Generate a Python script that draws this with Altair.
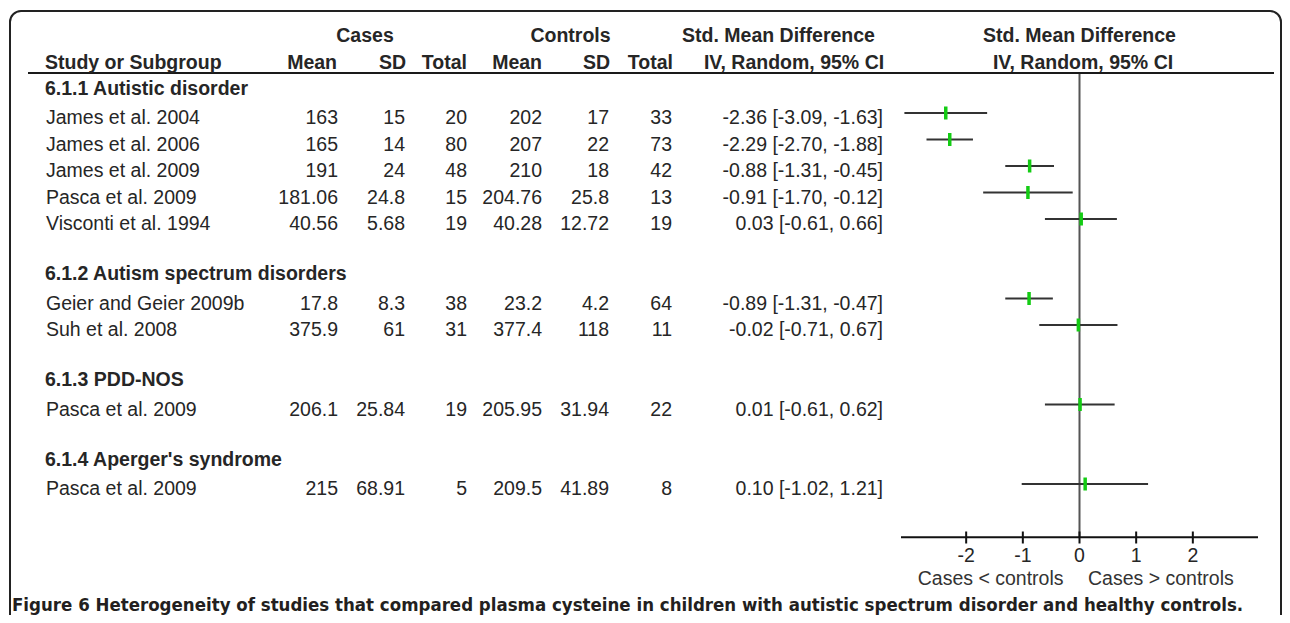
import altair as alt
import pandas as pd

# ---------------- data ----------------
studies = ["James et al. 2004", "James et al. 2006", "James et al. 2009", "Pasca et al. 2009",
           "Visconti et al. 1994", "Geier and Geier 2009b", "Suh et al. 2008",
           "Pasca et al. 2009", "Pasca et al. 2009"]
study_rows = [1, 2, 3, 4, 5, 8, 9, 12, 15]
case_mean = ["163", "165", "191", "181.06", "40.56", "17.8", "375.9", "206.1", "215"]
case_sd = ["15", "14", "24", "24.8", "5.68", "8.3", "61", "25.84", "68.91"]
case_n = ["20", "80", "48", "15", "19", "38", "31", "19", "5"]
ctrl_mean = ["202", "207", "210", "204.76", "40.28", "23.2", "377.4", "205.95", "209.5"]
ctrl_sd = ["17", "22", "18", "25.8", "12.72", "4.2", "118", "31.94", "41.89"]
ctrl_n = ["33", "73", "42", "13", "19", "64", "11", "22", "8"]
smd = [-2.36, -2.29, -0.88, -0.91, 0.03, -0.89, -0.02, 0.01, 0.10]
ci_lo = [-3.09, -2.70, -1.31, -1.70, -0.61, -1.31, -0.71, -0.61, -1.02]
ci_hi = [-1.63, -1.88, -0.45, -0.12, 0.66, -0.47, 0.67, 0.62, 1.21]

subgroups = ["6.1.1 Autistic disorder", "6.1.2 Autism spectrum disorders",
             "6.1.3 PDD-NOS", "6.1.4 Aperger's syndrome"]
subgroup_rows = [0, 7, 11, 14]

tick_values = [-2, -1, 0, 1, 2]
tick_labels = ["-2", "-1", "0", "1", "2"]
axis_extent = [-3.15, 3.15]

caption = ("Figure 6 Heterogeneity of studies that compared plasma cysteine in children "
           "with autistic spectrum disorder and healthy controls.")

# ---------------- styles ----------------
FONT = "Liberation Sans"
FS = 19.5
TXT = "#262626"
CAP_FONT = "Noto Sans Condensed, DejaVu Sans Condensed, Roboto Condensed, Roboto"

df = pd.DataFrame({
    "study": studies, "row": study_rows,
    "cm": case_mean, "csd": case_sd, "cn": case_n,
    "km": ctrl_mean, "ksd": ctrl_sd, "kn": ctrl_n,
    "smd": smd, "lo": ci_lo, "hi": ci_hi,
})
df["ci"] = [f"{s:.2f} [{l:.2f}, {h:.2f}]" for s, l, h in zip(smd, ci_lo, ci_hi)]
sg = pd.DataFrame({"label": subgroups, "row": subgroup_rows})

xscale = alt.Scale(domain=axis_extent, range=[893, 1250], nice=False, zero=False)
yscale = alt.Scale(domain=[0, 15], range=[78.5, 476], nice=False, zero=False)
Y = alt.Y("row:Q", scale=yscale, axis=None)


def col(field, x, align="right"):
    return alt.Chart(df).mark_text(align=align, baseline="alphabetic", dy=11, font=FONT,
                                   fontSize=FS, color=TXT).encode(
        x=alt.value(x), y=Y, text=f"{field}:N")


def label(text, x, y, align="center", bold=True, font=FONT, size=FS, color=TXT):
    return alt.Chart(pd.DataFrame({"t": [text]})).mark_text(
        align=align, baseline="alphabetic", font=font, fontSize=size, color=color,
        fontWeight="bold" if bold else "normal").encode(
        x=alt.value(x), y=alt.value(y), text="t:N")


box = alt.Chart(pd.DataFrame({"a": [0]})).mark_rect(
    fillOpacity=0, stroke="#222222", strokeWidth=2, cornerRadius=11).encode(
    x=alt.value(2), x2=alt.value(1273), y=alt.value(3), y2=alt.value(660))

header_line = alt.Chart(pd.DataFrame({"a": [0]})).mark_rule(
    color="#1a1a1a", strokeWidth=2).encode(x=alt.value(20), x2=alt.value(1266), y=alt.value(65))

headers = [
    label("Cases", 357, 34), label("Controls", 562.5, 34),
    label("Std. Mean Difference", 770.5, 34), label("Std. Mean Difference", 1071.5, 34),
    label("Study or Subgroup", 37, 61, align="left"),
    label("Mean", 329, 61, align="right"), label("SD", 398, 61, align="right"),
    label("Total", 459, 61, align="right"), label("Mean", 534, 61, align="right"),
    label("SD", 602, 61, align="right"), label("Total", 665, 61, align="right"),
    label("IV, Random, 95% CI", 786, 61), label("IV, Random, 95% CI", 1075, 61),
]

sub_text = alt.Chart(sg).mark_text(align="left", baseline="alphabetic", dy=8, font=FONT,
                                   fontSize=FS, fontWeight="bold", color=TXT).encode(
    x=alt.value(37), y=Y, text="label:N")

cols = [
    col("study", 38, "left"), col("cm", 330), col("csd", 397), col("cn", 459),
    col("km", 534), col("ksd", 601), col("kn", 664), col("ci", 875),
]

zero_line = alt.Chart(pd.DataFrame({"v": [0]})).mark_rule(color="#555555", strokeWidth=2).encode(
    x=alt.X("v:Q", scale=xscale, axis=None), y=alt.value(66), y2=alt.value(529))

ci_lines = alt.Chart(df).mark_rule(color="#333333", strokeWidth=2).encode(
    x=alt.X("lo:Q", scale=xscale, axis=None), x2="hi:Q", y=Y)

points = alt.Chart(df).mark_rule(color="#14cc14", strokeWidth=3.5, yOffset=-6.5, y2Offset=6.5).encode(
    x=alt.X("smd:Q", scale=xscale, axis=None), y=Y, y2="row:Q")

ax = pd.DataFrame({"a": [axis_extent[0]], "b": [axis_extent[1]]})
axis_line = alt.Chart(ax).mark_rule(color="#111111", strokeWidth=2).encode(
    x=alt.X("a:Q", scale=xscale, axis=None), x2="b:Q", y=alt.value(529.3))

tk = pd.DataFrame({"v": tick_values, "t": tick_labels})
ticks = alt.Chart(tk).mark_rule(color="#111111", strokeWidth=2).encode(
    x=alt.X("v:Q", scale=xscale, axis=None), y=alt.value(523.5), y2=alt.value(535.5))
tick_text = alt.Chart(tk).mark_text(align="center", baseline="alphabetic", font=FONT,
                                    fontSize=FS, color=TXT).encode(
    x=alt.X("v:Q", scale=xscale, axis=None), y=alt.value(553.5), text="t:N")

dirs = pd.DataFrame({"v": [0], "l": ["Cases < controls"], "r": ["Cases > controls"]})
dir_l = alt.Chart(dirs).mark_text(align="right", baseline="alphabetic", dx=-16, font=FONT,
                                  fontSize=FS, color="#333333").encode(
    x=alt.X("v:Q", scale=xscale, axis=None), y=alt.value(577), text="l:N")
dir_r = alt.Chart(dirs).mark_text(align="left", baseline="alphabetic", dx=8.5, font=FONT,
                                  fontSize=FS, color="#333333").encode(
    x=alt.X("v:Q", scale=xscale, axis=None), y=alt.value(577), text="r:N")

cap = label(caption, 4, 603, align="left", font=CAP_FONT, size=18.5, color="#231f20")

chart = alt.layer(
    box, header_line, *headers, sub_text, *cols, zero_line, ci_lines, points,
    axis_line, ticks, tick_text, dir_l, dir_r, cap
).properties(
    width=1274, height=607, padding=0, autosize=alt.AutoSizeParams(type="none"),
    background="white"
).configure_view(stroke=None)

chart.save("out.html", embed_options={"renderer": "svg", "actions": False})
